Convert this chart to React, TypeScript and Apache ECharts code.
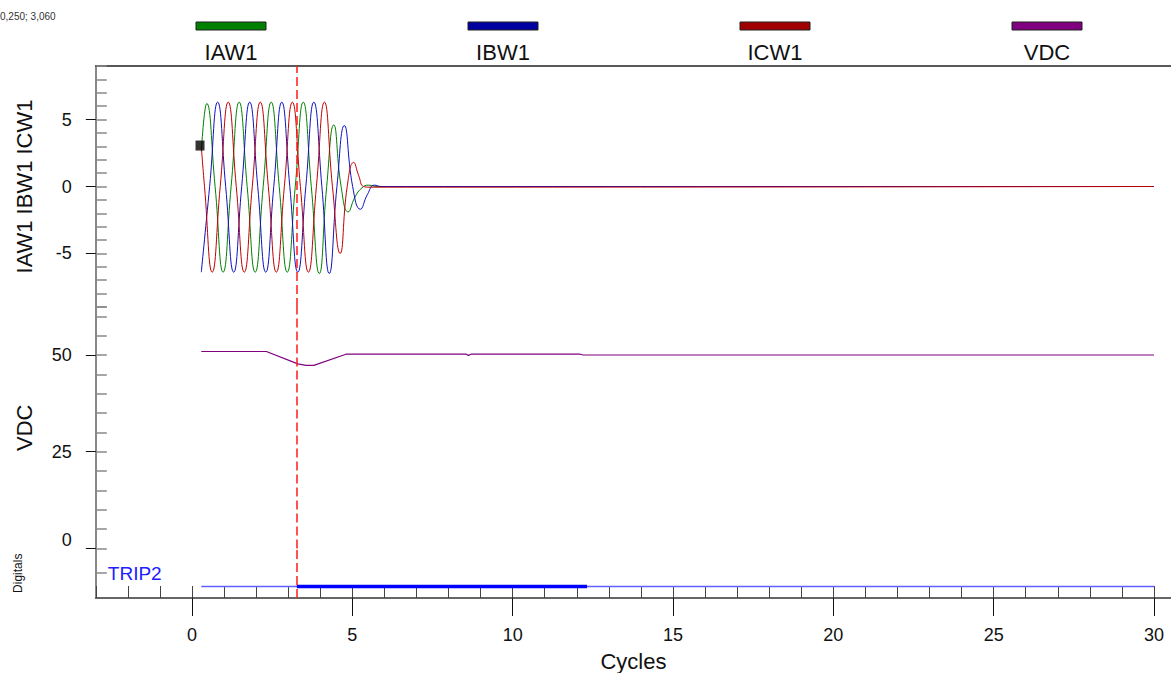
import React, { useEffect, useRef } from "react";
import * as echarts from "echarts";

// ---- data ----
const iawTime = [0.29, 0.46, 0.72, 0.97, 1.22, 1.47, 1.72, 1.97, 2.22, 2.47, 2.72, 2.97, 3.22, 3.47, 3.72, 3.97, 4.2, 4.42, 4.65, 4.87, 5.08, 5.3, 5.5, 5.8, 30];
const iawValues = [2.6, 6.2, 0, -6.4, 0, 6.3, 0, -6.4, 0, 6.3, 0, -6.4, 0, 6.3, 0, -6.5, 0, 4.6, 0, -1.9, -0.8, -0.1, 0.1, 0, 0];

const ibwTime = [0.29, 0.55, 0.8, 1.05, 1.3, 1.55, 1.8, 2.05, 2.3, 2.55, 2.8, 3.05, 3.3, 3.55, 3.8, 4.05, 4.28, 4.52, 4.75, 5.01, 5.25, 5.47, 5.69, 5.9, 30];
const ibwValues = [-6.4, 0, 6.3, 0, -6.4, 0, 6.3, 0, -6.4, 0, 6.3, 0, -6.4, 0, 6.3, 0, -6.5, 0, 4.55, 0, -1.7, -0.6, 0.1, 0, 0];

const icwTime = [0.29, 0.39, 0.63, 0.88, 1.13, 1.38, 1.63, 1.88, 2.13, 2.38, 2.63, 2.88, 3.13, 3.38, 3.63, 3.88, 4.13, 4.38, 4.62, 4.84, 5.04, 5.2, 5.35, 5.55, 30];
const icwValues = [3.0, 0, -6.4, 0, 6.3, 0, -6.4, 0, 6.3, 0, -6.4, 0, 6.3, 0, -6.4, 0, 6.3, 0, -5.0, 0, 1.8, 0.8, 0, -0.05, 0];

const vdcTime = [0.29, 2.32, 3.3, 3.55, 3.8, 4.8, 8.55, 8.62, 8.7, 12.1, 12.2, 30];
const vdcValues = [50.9, 50.9, 47.7, 47.3, 47.3, 50.2, 50.2, 49.9, 50.2, 50.2, 50.0, 50.0];

const tripLowTime = [0.29, 30];
const tripHighTime = [3.27, 12.32];
const tripLevel = 3;
const tripLabelLevel = 6.5;

const cursorTime = 0.25;
const cursorValue = 3.06;
const eventTime = 3.27;

const xMajorTicks = [0, 5, 10, 15, 20, 25, 30];
const currentMajorTicks = [-5, 0, 5];
const vdcMajorTicks = [0, 25, 50];

const legendNames = ["IAW1", "IBW1", "ICW1", "VDC"];
const legendColors = ["#008000", "#0000a0", "#a00000", "#800080"];
const lineColors = ["#008000", "#1010c0", "#c00000", "#800080"];

const FONT = 'Arial, "Liberation Sans", Helvetica, sans-serif';

const zip = (t: number[], v: number[]) => t.map((x, i) => [x, v[i]]);
const fmtComma = (n: number) => n.toFixed(3).replace(".", ",");

export default function App() {
  const ref = useRef<HTMLDivElement>(null);

  useEffect(() => {
    if (!ref.current) return;
    const chart = echarts.init(ref.current, null, { renderer: "svg" });

    const X_MIN = -3;
    const X_MAX = 30.53;
    const GL = 95.8;

    const eventLine = {
      silent: true,
      symbol: ["none", "none"],
      label: { show: false },
      emphasis: { disabled: true },
      lineStyle: { color: "#ff1a1a", type: [9, 4], width: 1.5, opacity: 1 },
      data: [{ xAxis: eventTime }],
    };

    const graphic: any[] = [
      {
        type: "text",
        x: 0,
        y: 16,
        style: {
          text: `${fmtComma(cursorTime)}; ${fmtComma(cursorValue)}`,
          fontSize: 10,
          fontFamily: FONT,
          fill: "#333",
          verticalAlign: "middle",
        },
      },
    ];
    legendNames.forEach((name, i) => {
      graphic.push({
        type: "rect",
        shape: { x: 196 + i * 272, y: 22, width: 70, height: 8 },
        style: { fill: legendColors[i], stroke: "#202020", lineWidth: 1 },
      });
      graphic.push({
        type: "text",
        x: 231 + i * 272,
        y: 52,
        style: {
          text: name,
          fontSize: 22,
          fontFamily: FONT,
          fill: "#111",
          align: "center",
          verticalAlign: "middle",
        },
      });
    });

    const option: any = {
      animation: false,
      backgroundColor: "#fff",
      textStyle: { fontFamily: FONT },
      graphic,
      grid: [
        { left: GL, right: 0, top: 66, height: 241 },
        { left: GL, right: 0, top: 307, height: 241.5 },
        { left: GL, right: 0, top: 548.5, height: 51.5 },
      ],
      xAxis: [
        {
          gridIndex: 0, type: "value", min: X_MIN, max: X_MAX, position: "top",
          axisLine: { show: true, onZero: false, lineStyle: { color: "#222", width: 1.5 } },
          axisTick: { show: false }, axisLabel: { show: false }, splitLine: { show: false },
        },
        { gridIndex: 1, type: "value", min: X_MIN, max: X_MAX, show: false, axisLine: { onZero: false } },
        {
          gridIndex: 2, type: "value", min: X_MIN, max: X_MAX, interval: 1, position: "bottom",
          axisLine: { show: true, onZero: false, lineStyle: { color: "#666", width: 2 } },
          axisTick: { show: true, inside: true, length: 12, lineStyle: { color: "#444", width: 1 } },
          axisLabel: { show: false }, splitLine: { show: false },
        },
        {
          gridIndex: 2, type: "value", min: X_MIN, max: X_MAX, position: "bottom",
          axisLine: { show: false, onZero: false },
          axisTick: { show: true, inside: false, length: 18, customValues: xMajorTicks, lineStyle: { color: "#111", width: 1 } },
          axisLabel: { show: true, customValues: xMajorTicks, fontSize: 18, color: "#111", margin: 28 },
          splitLine: { show: false },
          name: "Cycles", nameLocation: "middle", nameGap: 52,
          nameTextStyle: { fontSize: 22, color: "#111" },
        },
      ],
      yAxis: [
        {
          gridIndex: 0, type: "value", min: -9, max: 9, interval: 1, position: "left",
          axisLine: { show: true, onZero: false, lineStyle: { color: "#888", width: 2 } },
          axisTick: { show: true, inside: true, length: 11, lineStyle: { color: "#888", width: 1.5 } },
          axisLabel: {
            formatter: (v: number) => (currentMajorTicks.includes(v) ? String(v) : ""),
            fontSize: 18, color: "#111", margin: 24,
          },
          splitLine: { show: false },
          name: "IAW1 IBW1 ICW1", nameLocation: "middle", nameGap: 60,
          nameTextStyle: { fontSize: 22, color: "#111" },
        },
        {
          gridIndex: 0, type: "value", min: -9, max: 9, position: "left",
          axisLine: { show: false, onZero: false },
          axisTick: { show: true, inside: false, length: 10, customValues: currentMajorTicks, lineStyle: { color: "#111" } },
          axisLabel: { show: false }, splitLine: { show: false },
        },
        {
          gridIndex: 1, type: "value", min: 0, max: 62.4, interval: 5, position: "left",
          axisLine: { show: true, onZero: false, lineStyle: { color: "#888", width: 2 } },
          axisTick: { show: true, inside: true, length: 11, lineStyle: { color: "#888", width: 1.5 } },
          axisLabel: {
            formatter: (v: number) => (v === 0 ? "{z|0}" : vdcMajorTicks.includes(v) ? String(v) : ""),
            fontSize: 18, color: "#111", margin: 24,
            rich: { z: { fontSize: 18, color: "#111", fontFamily: FONT, padding: [0, 0, 18, 0] } },
          },
          splitLine: { show: false },
          name: "VDC", nameLocation: "middle", nameGap: 60,
          nameTextStyle: { fontSize: 22, color: "#111" },
        },
        {
          gridIndex: 1, type: "value", min: 0, max: 62.4, position: "left",
          axisLine: { show: false, onZero: false },
          axisTick: { show: true, inside: false, length: 10, customValues: vdcMajorTicks, lineStyle: { color: "#111" } },
          axisLabel: { show: false }, splitLine: { show: false },
        },
        {
          gridIndex: 2, type: "value", min: 0, max: 12.875, position: "left",
          axisLine: { show: true, onZero: false, lineStyle: { color: "#888", width: 2 } },
          axisTick: { show: true, inside: true, length: 11, customValues: [tripLabelLevel], lineStyle: { color: "#888", width: 1.5 } },
          axisLabel: {
            show: true, inside: true, customValues: [tripLabelLevel], formatter: () => "TRIP2",
            color: "#2020ff", fontSize: 19, margin: 12,
          },
          splitLine: { show: false },
          name: "Digitals", nameLocation: "middle", nameGap: 72,
          nameTextStyle: { fontSize: 12, color: "#111" },
        },
      ],
      series: [
        {
          name: "IAW1", type: "line", xAxisIndex: 0, yAxisIndex: 0, data: zip(iawTime, iawValues),
          smooth: 0.5, symbol: "none", lineStyle: { color: lineColors[0], width: 1 }, markLine: eventLine,
        },
        {
          name: "IBW1", type: "line", xAxisIndex: 0, yAxisIndex: 0, data: zip(ibwTime, ibwValues),
          smooth: 0.5, symbol: "none", lineStyle: { color: lineColors[1], width: 1 },
        },
        {
          name: "ICW1", type: "line", xAxisIndex: 0, yAxisIndex: 0, data: zip(icwTime, icwValues),
          smooth: 0.5, symbol: "none", lineStyle: { color: lineColors[2], width: 1 },
        },
        {
          name: "cursor", type: "scatter", xAxisIndex: 0, yAxisIndex: 0, data: [[cursorTime, cursorValue]],
          symbol: "rect", symbolSize: [9, 10], itemStyle: { color: "#000" }, z: 10, silent: true,
        },
        {
          name: "VDC", type: "line", xAxisIndex: 1, yAxisIndex: 2, data: zip(vdcTime, vdcValues),
          symbol: "none", lineStyle: { color: lineColors[3], width: 1.2 }, markLine: eventLine,
        },
        {
          name: "TRIP2", type: "line", xAxisIndex: 2, yAxisIndex: 4,
          data: tripLowTime.map((t) => [t, tripLevel]),
          symbol: "none", lineStyle: { color: "#6060ff", width: 1.5 }, markLine: eventLine,
        },
        {
          name: "TRIP2 on", type: "line", xAxisIndex: 2, yAxisIndex: 4,
          data: tripHighTime.map((t) => [t, tripLevel]),
          symbol: "none", lineStyle: { color: "#0000ff", width: 3.5 },
        },
      ],
    };

    chart.setOption(option);
    return () => chart.dispose();
  }, []);

  return (
    <div
      ref={ref}
      style={{ position: "fixed", left: 0, top: 0, width: 1171, height: 673, background: "#fff" }}
    />
  );
}
